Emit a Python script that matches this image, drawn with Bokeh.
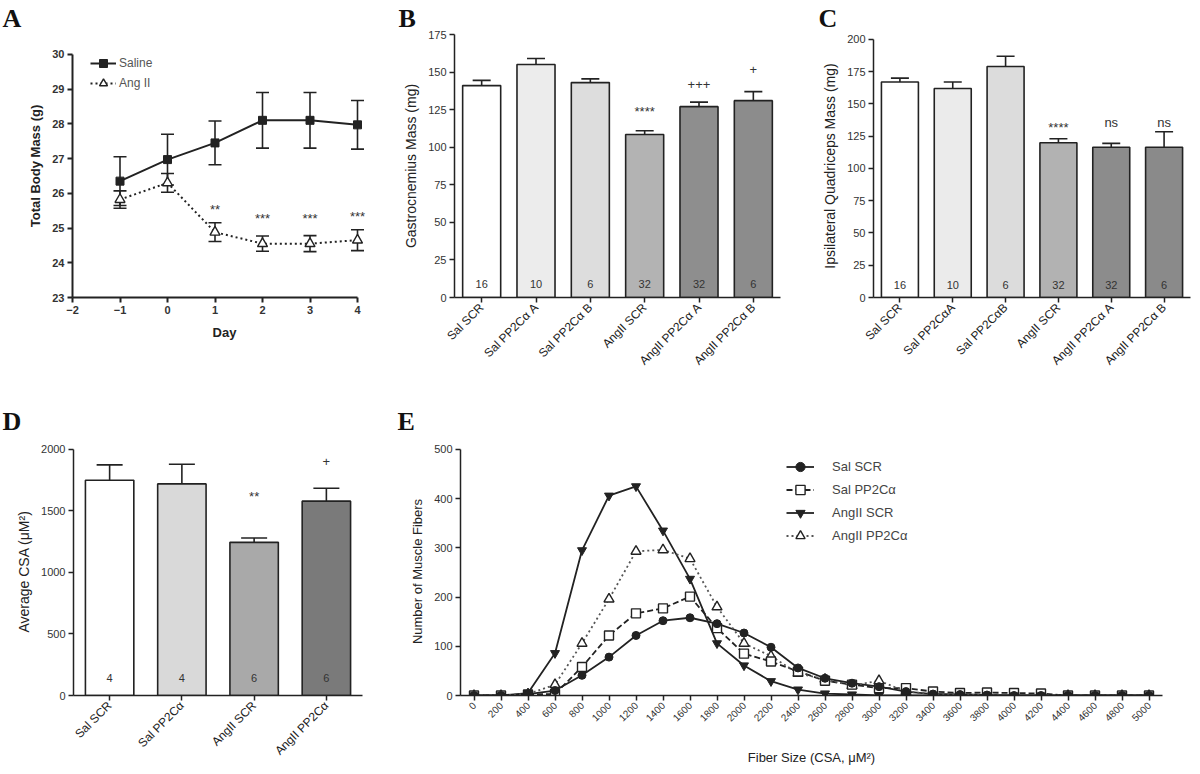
import math
from bokeh.plotting import figure
from bokeh.layouts import row, column
from bokeh.models import (ColumnDataSource, Whisker, TeeHead, Legend, LegendItem,
                          FactorRange, Range1d, FixedTicker)
from bokeh.core.properties import value
from bokeh.embed import file_html
from bokeh.resources import INLINE

# ---------------- data ----------------
# Panel A: total body mass
a_days = [-1, 0, 1, 2, 3, 4]
a_saline = [26.35, 26.97, 27.45, 28.10, 28.10, 27.97]
a_saline_err = [0.70, 0.73, 0.63, 0.80, 0.80, 0.70]
a_ang = [25.82, 26.30, 24.88, 24.55, 24.55, 24.65]
a_ang_err = [0.25, 0.27, 0.27, 0.22, 0.23, 0.30]
a_sig = ["", "", "**", "***", "***", "***"]
a_sig_y = [0, 0, 25.52, 25.27, 25.27, 25.33]

# Panel B: gastrocnemius mass
b_cats = ["Sal SCR", "Sal PP2C\u03b1 A", "Sal PP2C\u03b1 B",
          "AngII SCR", "AngII PP2C\u03b1 A", "AngII PP2C\u03b1 B"]
b_vals = [141, 155, 143, 108.5, 127, 131]
b_err = [3.5, 4, 2.5, 2.5, 3, 6]
b_n = ["16", "10", "6", "32", "32", "6"]
b_sig = ["", "", "", "****", "+++", "+"]
b_sig_y = [0, 0, 0, 124, 142, 151.5]

# Panel C: ipsilateral quadriceps mass
c_cats = ["Sal SCR", "Sal PP2C\u03b1A", "Sal PP2C\u03b1B",
          "AngII SCR", "AngII PP2C\u03b1 A", "AngII PP2C\u03b1 B"]
c_vals = [167, 162, 179, 120, 116.5, 116.5]
c_err = [3, 5, 8, 3, 3, 12]
c_n = ["16", "10", "6", "32", "32", "6"]
c_sig = ["", "", "", "****", "ns", "ns"]
c_sig_y = [0, 0, 0, 132, 136, 136]

# Panel D: average CSA
d_cats = ["Sal SCR", "Sal PP2C\u03b1", "AngII SCR", "AngII PP2C\u03b1"]
d_vals = [1750, 1720, 1245, 1580]
d_err = [125, 160, 35, 105]
d_n = ["4", "4", "6", "6"]
d_sig = ["", "", "**", "+"]
d_sig_y = [0, 0, 1620, 1905]

# Panel E: fiber size distribution
e_bins = [str(v) for v in range(0, 5001, 200)]
e_sal_scr = [0, 0, 3, 10, 41, 78, 122, 152, 158, 146, 127, 98, 56, 35, 25, 18, 8, 3, 2, 1, 0, 0, 0, 0, 0, 0]
e_sal_pp2c = [0, 0, 2, 3, 58, 122, 167, 177, 201, 137, 85, 69, 49, 30, 22, 15, 15, 8, 5, 6, 5, 4, 0, 0, 0, 0]
e_ang_scr = [0, 0, 5, 86, 295, 406, 425, 335, 237, 106, 61, 29, 12, 4, 2, 0, 0, 0, 0, 0, 0, 0, 0, 0, 0, 0]
e_ang_pp2c = [0, 0, 3, 22, 106, 196, 293, 296, 278, 180, 106, 80, 45, 33, 20, 30, 8, 3, 2, 1, 0, 0, 0, 0, 0, 0]

# ---------------- styling helpers ----------------
SANS = "Liberation Sans"
SERIF = "Liberation Serif"
INK = "#222222"
TXT = "#333333"

ROW1_H = 375
ROW1_BOTTOM = 77
ROW2_H = 397
ROW2_TOP = 72
ROW2_BOTTOM = 77


def style(p, bold_ticks=False, lw=1.5, tick_size="11px", label_size="13px", label_bold=False):
    p.outline_line_color = None
    p.xgrid.grid_line_color = None
    p.ygrid.grid_line_color = None
    p.background_fill_color = "white"
    p.border_fill_color = "white"
    for ax in p.axis:
        ax.axis_line_width = lw
        ax.axis_line_color = INK
        ax.major_tick_line_width = lw
        ax.major_tick_line_color = INK
        ax.major_tick_in = 0
        ax.major_tick_out = 5
        ax.minor_tick_line_color = None
        ax.major_label_text_font = SANS
        ax.major_label_text_font_size = tick_size
        ax.major_label_text_color = TXT
        ax.major_label_text_font_style = "bold" if bold_ticks else "normal"
        ax.axis_label_text_font = SANS
        ax.axis_label_text_font_style = "bold" if label_bold else "normal"
        ax.axis_label_text_color = INK
        ax.axis_label_text_font_size = label_size
        ax.major_label_standoff = 3
        ax.axis_label_standoff = 6


def panel_letter(p, offset, standoff):
    t = p.title
    t.text_font = SERIF
    t.text_font_style = "bold"
    t.text_font_size = "26px"
    t.text_color = "#111111"
    t.align = "left"
    t.offset = offset
    t.standoff = standoff


def bar_panel(letter, cats, vals, err, n, sig, sig_y, colors, ymax, ytop, yticks, ylabel,
              width, height, bl, br, bt, bb, cap, n_y, bar_w=0.7):
    p = figure(title=letter, width=width, height=height, x_range=FactorRange(*cats),
               y_range=Range1d(0, ytop), min_border_left=bl, min_border_right=br,
               min_border_top=bt, min_border_bottom=bb,
               output_backend="svg", toolbar_location=None)
    src = ColumnDataSource(dict(x=cats, top=vals, up=[v + e for v, e in zip(vals, err)],
                                color=colors))
    p.add_layout(Whisker(source=src, base="x", lower="top", upper="up", dimension="height",
                         line_width=1.6, line_color=INK, lower_head=None,
                         upper_head=TeeHead(size=cap, line_width=1.6, line_color=INK)))
    p.vbar(x="x", top="top", width=bar_w, source=src, fill_color="color",
           line_color=INK, line_width=1.6)
    p.text(x=cats, y=[n_y] * len(cats), text=n, text_align="center",
           text_baseline="middle", text_font=value(SANS), text_font_size="11px",
           text_color=TXT)
    p.text(x=cats, y=sig_y, text=sig, text_align="center", text_baseline="middle",
           text_font=value(SANS), text_font_size="13px", text_color=TXT)
    p.yaxis.ticker = FixedTicker(ticks=yticks)
    p.yaxis.bounds = (0, ymax)
    p.yaxis.axis_label = ylabel
    style(p, label_size="14px")
    p.xaxis.major_label_orientation = math.pi / 4
    p.xaxis.major_label_text_font_size = "12px"
    p.xaxis.major_label_text_color = INK
    return p


# ---------------- Panel A ----------------
pA = figure(title="A", width=396, height=ROW1_H, x_range=Range1d(-2, 4.4),
            y_range=Range1d(23, 30.571),
            min_border_left=72, min_border_right=20, min_border_top=33,
            min_border_bottom=ROW1_BOTTOM,
            output_backend="svg", toolbar_location=None)
srcS = ColumnDataSource(dict(x=a_days, y=a_saline,
                             lo=[v - e for v, e in zip(a_saline, a_saline_err)],
                             up=[v + e for v, e in zip(a_saline, a_saline_err)]))
srcA = ColumnDataSource(dict(x=a_days, y=a_ang,
                             lo=[v - e for v, e in zip(a_ang, a_ang_err)],
                             up=[v + e for v, e in zip(a_ang, a_ang_err)]))
for s in (srcS, srcA):
    pA.add_layout(Whisker(source=s, base="x", lower="lo", upper="up", line_width=1.6,
                          line_color=INK,
                          upper_head=TeeHead(size=13, line_width=1.6, line_color=INK),
                          lower_head=TeeHead(size=13, line_width=1.6, line_color=INK)))
lS = pA.line("x", "y", source=srcS, line_color=INK, line_width=2)
mS = pA.scatter("x", "y", source=srcS, marker="square", size=8, fill_color=INK, line_color=INK)
lA = pA.line("x", "y", source=srcA, line_color=INK, line_width=2, line_dash="2 3")
mA = pA.scatter("x", "y", source=srcA, marker="triangle", size=10, fill_color="white",
                line_color=INK, line_width=1.4)
pA.text(x=a_days, y=a_sig_y, text=a_sig, text_align="center", text_baseline="middle",
        text_font=value(SANS), text_font_size="13px", text_color=TXT)
pA.xaxis.ticker = FixedTicker(ticks=[-2, -1, 0, 1, 2, 3, 4])
pA.yaxis.ticker = FixedTicker(ticks=[23, 24, 25, 26, 27, 28, 29, 30])
pA.xaxis.bounds = (-2, 4)
pA.yaxis.bounds = (23, 30)
pA.xaxis.axis_label = "Day"
pA.yaxis.axis_label = "Total Body Mass (g)"
style(pA, bold_ticks=True, lw=2, label_bold=True)
pA.xaxis.axis_label_standoff = 8
legA = Legend(items=[LegendItem(label="Saline", renderers=[lS, mS]),
                     LegendItem(label="Ang II", renderers=[lA, mA])],
              location=(18, 204), orientation="vertical", border_line_color=None,
              background_fill_alpha=0, padding=0, margin=0, spacing=0,
              glyph_width=26, glyph_height=20, label_height=20, label_standoff=3,
              label_text_font=SANS, label_text_font_size="12px", label_text_color="#555555")
pA.add_layout(legA)
panel_letter(pA, -70, 3)

# ---------------- Panel B ----------------
b_colors = ["#ffffff", "#ececec", "#dddddd", "#b3b3b3", "#8e8e8e", "#8c8c8c"]
pB = bar_panel("B", b_cats, b_vals, b_err, b_n, b_sig, b_sig_y, b_colors, 175, 175,
               [0, 25, 50, 75, 100, 125, 150, 175], "Gastrocnemius Mass (mg)",
               420, ROW1_H, 58, 36, 33, ROW1_BOTTOM, 18, 9)
panel_letter(pB, -56, 3)

# ---------------- Panel C ----------------
c_colors = ["#ffffff", "#ebebeb", "#dcdcdc", "#b2b2b2", "#8c8c8c", "#8a8a8a"]
pC = bar_panel("C", c_cats, c_vals, c_err, c_n, c_sig, c_sig_y, c_colors, 200, 203.85,
               [0, 25, 50, 75, 100, 125, 150, 175, 200], "Ipsilateral Quadriceps Mass (mg)",
               384, ROW1_H, 57, 10, 33, ROW1_BOTTOM, 18, 10)
panel_letter(pC, -55, 3)

# ---------------- Panel D ----------------
d_colors = ["#ffffff", "#d9d9d9", "#a9a9a9", "#7a7a7a"]
pD = bar_panel("D", d_cats, d_vals, d_err, d_n, d_sig, d_sig_y, d_colors, 2000, 2016,
               [0, 500, 1000, 1500, 2000], "Average CSA (\u03bcM\u00b2)",
               395, ROW2_H, 73, 33, ROW2_TOP, ROW2_BOTTOM, 26, 145, bar_w=0.67)
panel_letter(pD, -71, 24)

# ---------------- Panel E ----------------
pE = figure(title="E", width=805, height=ROW2_H, x_range=FactorRange(*e_bins),
            y_range=Range1d(0, 504),
            min_border_left=65, min_border_right=38, min_border_top=ROW2_TOP,
            min_border_bottom=ROW2_BOTTOM,
            output_backend="svg", toolbar_location=None)
l1 = pE.line(e_bins, e_sal_scr, line_color=INK, line_width=1.8)
l2 = pE.line(e_bins, e_sal_pp2c, line_color=INK, line_width=1.8, line_dash="6 3")
l3 = pE.line(e_bins, e_ang_scr, line_color=INK, line_width=1.8)
l4 = pE.line(e_bins, e_ang_pp2c, line_color="#555555", line_width=1.8, line_dash="2 3")
m4 = pE.scatter(e_bins, e_ang_pp2c, marker="triangle", size=10, fill_color="white",
                line_color=INK, line_width=1.4)
m2 = pE.scatter(e_bins, e_sal_pp2c, marker="square", size=9, fill_color="white",
                line_color=INK, line_width=1.4)
m3 = pE.scatter(e_bins, e_ang_scr, marker="inverted_triangle", size=9, fill_color=INK,
                line_color=INK)
m1 = pE.scatter(e_bins, e_sal_scr, marker="circle", size=8, fill_color=INK, line_color=INK)
pE.yaxis.ticker = FixedTicker(ticks=[0, 100, 200, 300, 400, 500])
pE.yaxis.bounds = (0, 500)
pE.yaxis.axis_label = "Number of Muscle Fibers"
pE.xaxis.axis_label = "Fiber Size (CSA, \u03bcM\u00b2)"
style(pE)
pE.xaxis.major_label_orientation = math.pi / 4
pE.xaxis.major_label_text_font_size = "10px"
pE.xaxis.axis_label_standoff = 22
legE = Legend(items=[LegendItem(label="Sal SCR", renderers=[l1, m1]),
                     LegendItem(label="Sal PP2C\u03b1", renderers=[l2, m2]),
                     LegendItem(label="AngII SCR", renderers=[l3, m3]),
                     LegendItem(label="AngII PP2C\u03b1", renderers=[l4, m4])],
              location=(326, 148), orientation="vertical", border_line_color=None,
              background_fill_alpha=0, padding=0, margin=0, spacing=0,
              glyph_width=28, glyph_height=23, label_height=23, label_standoff=18,
              label_text_font=SANS, label_text_font_size="13px", label_text_color="#444444")
pE.add_layout(legE)
panel_letter(pE, -63, 24)

layout = column(row(pA, pB, pC), row(pD, pE))

open("out.html", "w").write(file_html(layout, INLINE))
